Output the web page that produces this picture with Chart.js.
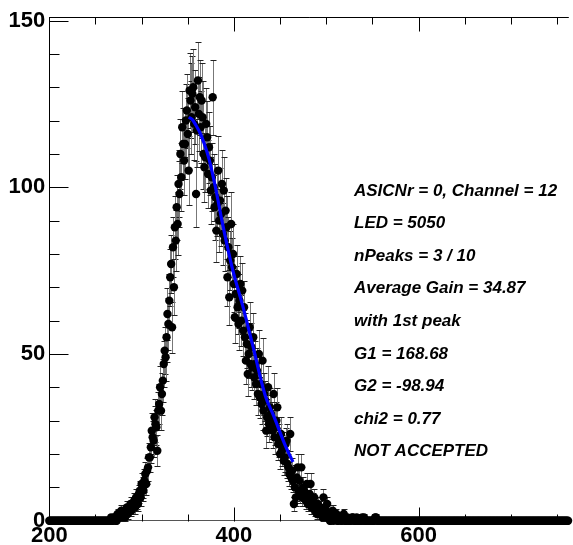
<!DOCTYPE html>
<html><head><meta charset="utf-8">
<script src="https://cdn.jsdelivr.net/npm/chart.js@4.4.0/dist/chart.umd.min.js"></script>
<style>html,body{margin:0;padding:0;background:#fff;overflow:hidden}#wrap{position:relative;width:573px;height:545px}</style>
</head><body><div id="wrap"><canvas id="c" width="573" height="545"></canvas></div>
<script>
// histogram bins: first bin position and bin width (x categories)
const binStart = 200;
const binWidth = 1;
// bin contents, bins at 200, 201, ... 762
const counts = [
  // 200 - 264
  0,0,0,0,0,0,0,0,0,0, 0,0,0,0,0,0,0,0,0,0, 0,0,0,0,0,0,0,0,0,0,
  0,0,0,0,0,0,0,0,0,0, 0,0,0,0,0,0,0,0,0,0, 0,0,0,0,0,0,0,0,0,0,
  0,0,0,0,0,
  // 265 - 560
  0,0,1,0,0,1,1,0,0,2,
  1,1,2,3,1,2,2,1,3,4,
  2,3,4,5,3,4,5,6,4,7,
  6,5,8,9,7,11,10,9,12,14,
  11,15,16,19,19,22,27,25,24,31,
  29,28,21,33,35,40,33,38,42,47,
  51,49,55,62,59,66,73,77,58,82,
  70,88,84,94,89,101,98,110,103,118,
  113,108,113,120,123,116,105,129,126,121,
  128,130,119,124,98,117,132,122,127,118,
  126,121,110,106,109,119,115,104,112,108,
  99,103,127,100,94,97,87,95,105,90,
  96,92,101,86,99,84,93,88,73,82,
  67,78,89,76,80,71,61,68,74,64,
  59,66,71,60,69,57,64,55,48,53,
  44,50,58,47,52,46,55,43,47,41,
  45,38,50,37,41,35,48,33,38,36,
  27,31,40,29,34,32,30,27,38,25,
  28,30,34,23,24,20,26,21,22,18,
  19,23,24,17,16,14,26,13,15,12,
  5,10,7,13,16,9,12,8,16,7,
  10,9,8,6,11,5,6,8,11,4,
  4,6,7,3,4,2,5,3,2,4,
  3,1,7,2,1,3,5,1,2,0,
  0,2,3,0,1,1,2,0,0,1,
  1,0,0,1,2,0,0,0,1,0,
  0,0,0,1,1,0,0,0,1,0,
  0,0,0,0,1,0,1,0,0,0,
  0,0,0,0,0,0,0,0,1,1,
  0,0,0,0,0,0,
  // 561 - 762
  0,0,0,0,0,0,0,0,0,0, 0,0,0,0,0,0,0,0,0,0, 0,0,0,0,0,0,0,0,0,0,
  0,0,0,0,0,0,0,0,0,0, 0,0,0,0,0,0,0,0,0,0, 0,0,0,0,0,0,0,0,0,0,
  0,0,0,0,0,0,0,0,0,0, 0,0,0,0,0,0,0,0,0,0, 0,0,0,0,0,0,0,0,0,0,
  0,0,0,0,0,0,0,0,0,0, 0,0,0,0,0,0,0,0,0,0, 0,0,0,0,0,0,0,0,0,0,
  0,0,0,0,0,0,0,0,0,0, 0,0,0,0,0,0,0,0,0,0, 0,0,0,0,0,0,0,0,0,0,
  0,0,0,0,0,0,0,0,0,0, 0,0,0,0,0,0,0,0,0,0, 0,0,0,0,0,0,0,0,0,0,
  0,0,0,0,0,0,0,0,0,0, 0,0,0,0,0,0,0,0,0,0,
  0,0
];
// fitted curve
const fitX = [351, 355, 359, 363, 368, 373, 380, 387, 398, 409, 420, 434, 443, 455, 464];
const fitY = [121, 120.3, 118.5, 116.5, 113, 108.5, 100, 90, 76, 65, 53, 37.5, 31.5, 23, 17.6];
// axis ticks
const xTickValues = [200, 400, 600];
const xMinorValues = [250, 300, 350, 450, 500, 550, 650, 700, 750];
const yTickValues = [0, 50, 100, 150];
const yMinorValues = [10, 20, 30, 40, 60, 70, 80, 90, 110, 120, 130, 140];
const xRange = [200, 762.8];
const yRange = [0, 151];
// annotation text
const infoLines = [
  'ASICNr = 0, Channel = 12',
  'LED = 5050',
  'nPeaks = 3 / 10',
  'Average Gain = 34.87',
  'with 1st peak',
  'G1 = 168.68',
  'G2 = -98.94',
  'chi2 = 0.77',
  'NOT ACCEPTED'
];

const histPoints = counts.map((v, i) => ({x: binStart + i * binWidth, y: v}));
const fitPoints = fitX.map((x, i) => ({x: x, y: fitY[i]}));

const tickFont = {family: '"Liberation Sans", Arial, sans-serif', size: 22, weight: 'bold', lineHeight: 1.2};

const errorBars = {
  id: 'errorBars',
  beforeDatasetsDraw(chart) {
    const meta = chart.getDatasetMeta(1);
    const ys = chart.scales.y;
    const ctx = chart.ctx;
    ctx.save();
    ctx.lineWidth = 1;
    meta.data.forEach((pt, i) => {
      const v = counts[i];
      if (!v) return;
      const e = Math.sqrt(v);
      const yt = Math.round(ys.getPixelForValue(v + e)) + 0.5;
      const yb = Math.round(ys.getPixelForValue(Math.max(0, v - e))) + 0.5;
      const x = Math.round(pt.x) + 0.5;
      ctx.strokeStyle = '#777';
      ctx.beginPath();
      ctx.moveTo(x, yt); ctx.lineTo(x, yb);
      ctx.stroke();
      ctx.strokeStyle = '#222';
      ctx.beginPath();
      ctx.moveTo(x - 3, yt); ctx.lineTo(x + 3, yt);
      ctx.moveTo(x - 3, yb); ctx.lineTo(x + 3, yb);
      ctx.stroke();
    });
    ctx.restore();
  }
};

const frameTicks = {
  id: 'frameTicks',
  afterDraw(chart) {
    const ctx = chart.ctx;
    const xs = chart.scales.x, ys = chart.scales.y;
    const a = chart.chartArea;
    ctx.save();
    ctx.strokeStyle = '#000';
    ctx.lineWidth = 1;
    ctx.beginPath();
    const top = Math.round(a.top) + 0.5;
    const bot = Math.round(a.bottom) + 0.5;
    const left = Math.round(a.left) + 0.5;
    ctx.moveTo(left, top); ctx.lineTo(a.right, top);
    const xt = (v, len) => {
      const px = Math.round(xs.getPixelForValue(v)) + 0.5;
      ctx.moveTo(px, top); ctx.lineTo(px, top + len);
      ctx.moveTo(px, bot); ctx.lineTo(px, bot - len);
    };
    xTickValues.forEach(v => xt(v, 14));
    xMinorValues.forEach(v => xt(v, 7));
    const yt = (v, len) => {
      const py = Math.round(ys.getPixelForValue(v)) + 0.5;
      ctx.moveTo(left, py); ctx.lineTo(left + len, py);
    };
    yTickValues.forEach(v => yt(v, 19));
    yMinorValues.forEach(v => yt(v, 10));
    ctx.stroke();
    ctx.restore();
  }
};

const infoText = {
  id: 'infoText',
  afterDraw(chart) {
    const ctx = chart.ctx;
    ctx.save();
    ctx.fillStyle = '#000';
    ctx.font = 'italic bold 17px "Liberation Sans", Arial, sans-serif';
    ctx.textBaseline = 'middle';
    ctx.textAlign = 'left';
    infoLines.forEach((t, i) => ctx.fillText(t, 354, 191 + i * 32.6));
    ctx.restore();
  }
};

new Chart(document.getElementById('c'), {
  type: 'scatter',
  data: {
    datasets: [
      {
        label: 'fit',
        data: fitPoints,
        showLine: true,
        borderColor: '#0000ff',
        borderWidth: 3.2,
        pointRadius: 0,
        cubicInterpolationMode: 'monotone',
        order: 0,
        clip: false
      },
      {
        label: 'histogram',
        data: histPoints,
        showLine: false,
        pointRadius: 4.2,
        pointBackgroundColor: '#000',
        pointBorderColor: '#000',
        pointBorderWidth: 0,
        order: 1,
        clip: false
      }
    ]
  },
  options: {
    responsive: false,
    animation: false,
    devicePixelRatio: 1,
    layout: {padding: {top: 16, left: 0, right: 0, bottom: 0}},
    plugins: {legend: {display: false}, tooltip: {enabled: false}},
    scales: {
      x: {
        type: 'linear', position: 'bottom',
        min: xRange[0], max: xRange[1],
        grid: {display: false, drawTicks: false},
        border: {display: true, color: '#555', width: 1},
        ticks: {font: tickFont, color: '#000', padding: 2, maxRotation: 0, autoSkip: false},
        afterBuildTicks: s => { s.ticks = xTickValues.map(v => ({value: v})); },
        afterFit: s => { s.height = 24.3; }
      },
      y: {
        type: 'linear', position: 'left',
        min: yRange[0], max: yRange[1],
        grid: {display: false, drawTicks: false},
        border: {display: true, color: '#000', width: 1},
        ticks: {font: tickFont, color: '#000', padding: 4},
        afterBuildTicks: s => { s.ticks = yTickValues.map(v => ({value: v})); },
        afterFit: s => { s.width = 49.3; }
      }
    }
  },
  plugins: [errorBars, frameTicks, infoText]
});
</script>
</body></html>
